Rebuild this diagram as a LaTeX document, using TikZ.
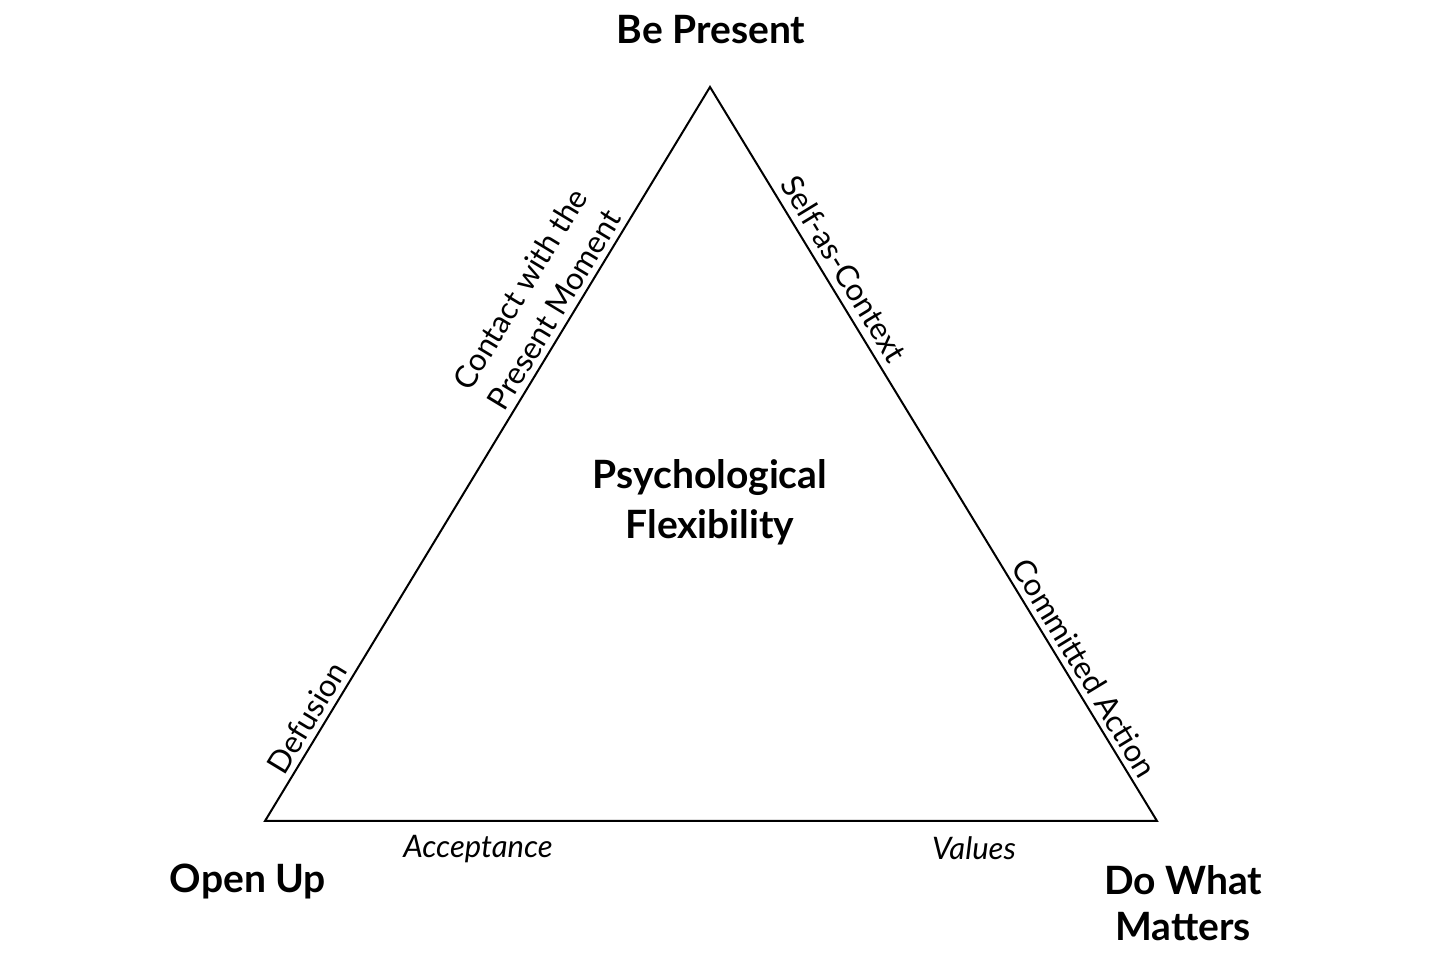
\documentclass[tikz,border=0pt]{standalone}
\usepackage{fontspec}
\setmainfont{Lato}
\begin{document}
\begin{tikzpicture}[x=0.5pt,y=0.5pt,
  vlabel/.style={font=\bfseries\fontsize{19.5}{23}\selectfont, align=center, inner sep=0pt},
  clabel/.style={font=\bfseries\fontsize{19.5}{25}\selectfont, align=center, inner sep=0pt},
  elabel/.style={font=\fontsize{15.5}{20}\selectfont, align=center, inner sep=3pt},
  blabel/.style={font=\itshape\fontsize{15.5}{17}\selectfont, inner sep=0pt},
  edge/.style={draw=black, line width=1pt, line join=miter}]
\useasboundingbox (0,0) rectangle (1456,968);
\coordinate (T) at (710,881);
\coordinate (L) at (265,147);
\coordinate (R) at (1157,147);
\draw[edge] (L) -- (T) -- (R) -- cycle;
\node[vlabel] (bp) at (711,938) {Be Present};
\node[vlabel] (ou) at (248,86) {Open Up};
\node[vlabel] (dw) at (1183,65) {Do What\\Matters};
\node[clabel] (pf) at (710,466) {Psychological\\Flexibility};
\path (L) -- (T)
  node[elabel, pos=0.684, sloped, above] (cp) {Contact with the\\Present Moment}
  node[elabel, pos=0.128, sloped, above] (df) {Defusion};
\path (T) -- (R)
  node[elabel, pos=0.262, sloped, above, inner sep=4pt] (sc) {Self-as-Context}
  node[elabel, pos=0.804, sloped, above] (ca) {Committed Action};
\node[blabel] (ac) at (478,119) {Acceptance};
\node[blabel] (va) at (974,120) {Values};
\end{tikzpicture}
\end{document}
